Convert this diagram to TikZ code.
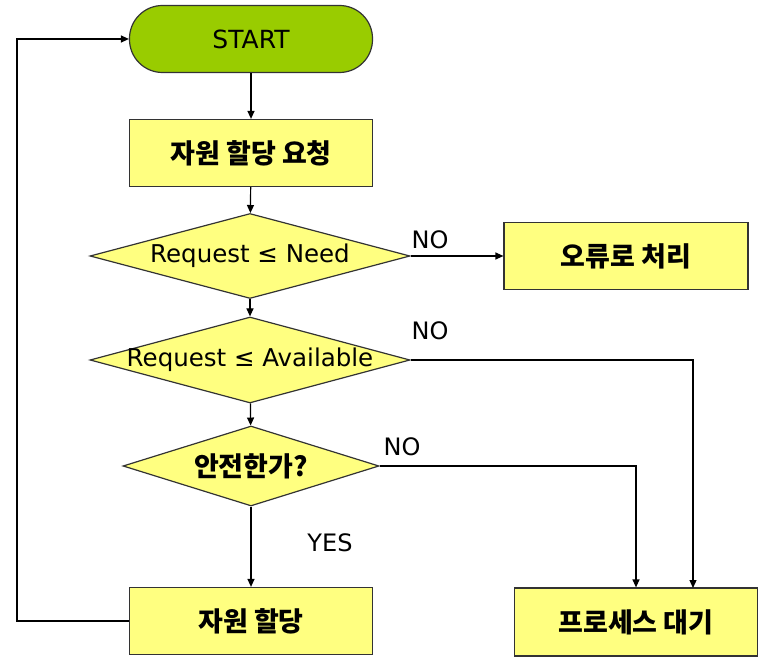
\documentclass[tikz,border=0pt]{standalone}
\usepackage{fontspec}
\setmainfont{DejaVu Sans}
\newfontfamily\kr{Noto Sans CJK KR}
\usetikzlibrary{shapes.geometric,arrows.meta}
\definecolor{startgreen}{HTML}{99CC00}
\definecolor{boxyellow}{HTML}{FFFF80}

\begin{document}
\begin{tikzpicture}[x=1pt, y=-1pt, line width=1.2pt,
        >={Triangle[length=8pt,width=7pt]},
        term/.style={draw=black!80, fill=startgreen, rounded corners=33pt, minimum width=243pt, minimum height=67pt, font=\fontsize{25}{28}\selectfont},
        box/.style={draw=black!80, fill=boxyellow, minimum width=243pt, minimum height=67pt, font=\kr\bfseries\fontsize{27}{30}\selectfont},
        dia/.style={diamond, draw=black!80, fill=boxyellow, inner sep=0pt, minimum width=320pt, minimum height=85pt, font=\fontsize{24.5}{28}\selectfont},
        lbl/.style={font=\fontsize{24}{28}\selectfont}]
        \useasboundingbox (0, 0) rectangle (761, 660);

        \node[term] (start) at (251, 39) {START};
        \node[box] (req) at (251, 153) {자원 할당 요청};
        \node[dia] (need) at (250, 256) {\makebox[0pt]{Request ≤ Need}};
        \node[box, minimum width=244pt] (err) at (626, 256) {오류로 처리};
        \node[dia, minimum height=86pt] (avail) at (250, 360) {\makebox[0pt]{\raisebox{3pt}{Request ≤ Available}}};
        \node[dia, minimum width=256pt, minimum height=80pt, font=\kr\bfseries\fontsize{27}{30}\selectfont] (safe) at (251, 466) {\makebox[0pt]{안전한가?}};
        \node[box] (alloc) at (251, 621) {자원 할당};
        \node[box, minimum height=68pt] (wait) at (636, 622) {프로세스 대기};

        \coordinate (back) at (17, 621);
        \coordinate (waitA) at (693, 588);

        \draw[->] (start) -- (req);
        \draw[->] (req) -- (need);
        \draw[->] (need) -- (avail);
        \draw[->] (avail) -- (safe);
        \draw[->] (safe) -- (alloc);
        \draw[->] (need.east) -- (err.west);
        \draw[->] (avail.east) -| (waitA);
        \draw[->] (safe.east) -| (wait.north);
        \draw[->] (alloc.west) -- (back) |- (start.west);

        \node[lbl] (no1) at (430, 240) {NO};
        \node[lbl] (no2) at (430, 331) {NO};
        \node[lbl] (no3) at (402, 447) {NO};
        \node[lbl] (yes) at (330, 543) {YES};
    \end{tikzpicture}
\end{document}
